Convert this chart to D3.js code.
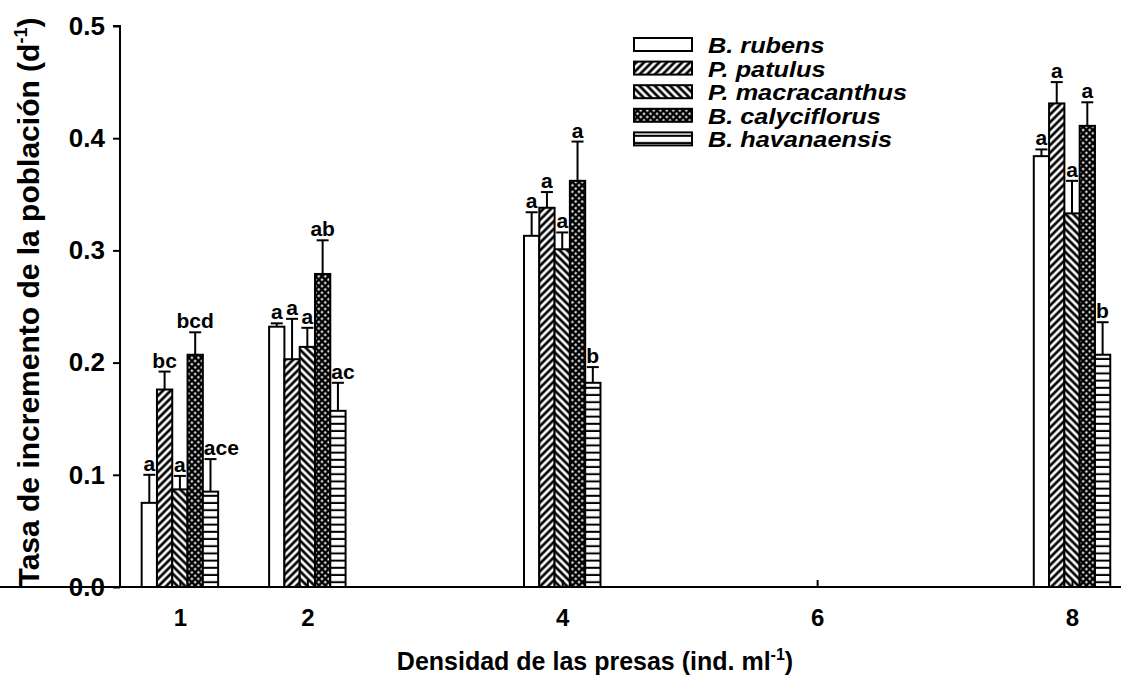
<!DOCTYPE html>
<html>
<head>
<meta charset="utf-8">
<script src="https://cdn.jsdelivr.net/npm/d3@7"></script>
<style>
  html, body { margin: 0; padding: 0; background: #fff; }
  svg { display: block; font-family: "Liberation Sans", Arial, sans-serif; }
</style>
</head>
<body>
<svg id="chart" width="1121" height="677"></svg>
<script>
// Prey densities (ind. ml^-1)
const densities = [1, 2, 4, 8];
const xTicks = [1, 2, 4, 6, 8];
const yTicks = [0, 0.1, 0.2, 0.3, 0.4, 0.5];

// Species shown in the legend
const species = ["B. rubens", "P. patulus", "P. macracanthus", "B. calyciflorus", "B. havanaensis"];

// Rate of population increase (d^-1), one array per species, by density
const rubensR        = [0.075, 0.232, 0.313, 0.384];
const patulusR       = [0.176, 0.203, 0.338, 0.431];
const macracanthusR  = [0.087, 0.214, 0.301, 0.333];
const calyciflorusR  = [0.207, 0.279, 0.362, 0.411];
const havanaensisR   = [0.085, 0.157, 0.182, 0.207];

// Standard errors
const rubensSE       = [0.025, 0.003, 0.021, 0.006];
const patulusSE      = [0.016, 0.036, 0.014, 0.019];
const macracanthusSE = [0.012, 0.017, 0.015, 0.029];
const calyciflorusSE = [0.020, 0.030, 0.035, 0.021];
const havanaensisSE  = [0.029, 0.025, 0.014, 0.029];

// Significance letters
const rubensLet       = ["a", "a", "a", "a"];
const patulusLet      = ["bc", "a", "a", "a"];
const macracanthusLet = ["a", "a", "a", "a"];
const calyciflorusLet = ["bcd", "ab", "a", "a"];
const havanaensisLet  = ["ace", "ac", "b", "b"];

const values  = [rubensR, patulusR, macracanthusR, calyciflorusR, havanaensisR];
const errors  = [rubensSE, patulusSE, macracanthusSE, calyciflorusSE, havanaensisSE];
const letters = [rubensLet, patulusLet, macracanthusLet, calyciflorusLet, havanaensisLet];
const fills   = ["white", "url(#pPatulus)", "url(#pMacra)", "url(#pCaly)", "url(#pHava)"];

const svg = d3.select("#chart");

// ---- hatch patterns ----
const defs = svg.append("defs");

function stripes(id, angle, size, lw) {
  const p = defs.append("pattern").attr("id", id)
    .attr("patternUnits", "userSpaceOnUse")
    .attr("width", size).attr("height", size)
    .attr("patternTransform", `rotate(${angle})`);
  p.append("rect").attr("width", size).attr("height", size).attr("fill", "white");
  p.append("line").attr("x1", size / 2).attr("x2", size / 2)
    .attr("y1", 0).attr("y2", size)
    .attr("stroke", "black").attr("stroke-width", lw);
}
stripes("pPatulus", 45, 5.4, 2.7);
stripes("pMacra", -45, 5.4, 2.7);

// cross-hatch: black ground with white dots
(function () {
  const s = 4.6;
  const p = defs.append("pattern").attr("id", "pCaly")
    .attr("patternUnits", "userSpaceOnUse")
    .attr("width", s).attr("height", s)
    .attr("patternTransform", "rotate(45)");
  p.append("rect").attr("width", s).attr("height", s).attr("fill", "black");
  p.append("rect").attr("x", 1.2).attr("y", 1.2).attr("width", 2.1).attr("height", 2.1).attr("fill", "white");
})();

// horizontal lines
(function () {
  const s = 7.2;
  const p = defs.append("pattern").attr("id", "pHava")
    .attr("patternUnits", "userSpaceOnUse")
    .attr("width", 10).attr("height", s);
  p.append("rect").attr("width", 10).attr("height", s).attr("fill", "white");
  p.append("rect").attr("x", 0).attr("y", s - 2).attr("width", 10).attr("height", 2).attr("fill", "black");
})();

// ---- scales ----
const x = d3.scaleLinear().domain([0.53, 8.4]).range([120, 1123]);
const y = d3.scaleLinear().domain([0, 0.5]).range([587, 26]);
const barW = 0.12; // in density units

// ---- bars, error bars, letters ----
const g = svg.append("g");
species.forEach((sp, i) => {
  const off = (i - 2.5) * barW;
  const last = i === species.length - 1;
  densities.forEach((d, j) => {
    const x0 = x(d + off), x1 = x(d + off + barW);
    const cx = (x0 + x1) / 2;
    const v = values[i][j], e = errors[i][j];
    // error bar (upper half only)
    g.append("line").attr("x1", cx).attr("x2", cx)
      .attr("y1", y(v)).attr("y2", y(v + e))
      .attr("stroke", "black").attr("stroke-width", 2);
    g.append("line").attr("x1", cx - 6).attr("x2", cx + 6)
      .attr("y1", y(v + e)).attr("y2", y(v + e))
      .attr("stroke", "black").attr("stroke-width", 2);
    // letters of the right-most bar start at its left edge so they clear the neighbour
    g.append("text").attr("x", last ? x0 + 1 : cx).attr("y", y(v + e) - 4)
      .attr("text-anchor", last ? "start" : "middle")
      .attr("font-size", 21).attr("font-weight", "bold")
      .text(letters[i][j]);
    g.append("rect")
      .attr("x", x0).attr("y", y(v))
      .attr("width", x1 - x0).attr("height", y(0) - y(v))
      .attr("fill", fills[i]).attr("stroke", "black").attr("stroke-width", 2);
  });
});

// ---- axes ----
const yAxis = svg.append("g").attr("transform", `translate(${x(0.53)},0)`)
  .call(d3.axisLeft(y).tickValues(yTicks).tickFormat(d3.format(".1f")).tickSize(7).tickPadding(8));
const xAxis = svg.append("g").attr("transform", `translate(0,${y(0)})`)
  .call(d3.axisBottom(x).tickValues(xTicks).tickFormat(d3.format("d")).tickSize(-7).tickPadding(22));

[yAxis, xAxis].forEach(a => {
  a.select(".domain").attr("stroke", "black").attr("stroke-width", 2);
  a.selectAll(".tick line").attr("stroke", "black").attr("stroke-width", 2);
  a.selectAll(".tick text").attr("fill", "black")
    .attr("font-weight", "bold")
    .attr("font-family", "Liberation Sans, Arial, sans-serif");
});
yAxis.selectAll(".tick text").attr("font-size", 26);
xAxis.selectAll(".tick text").attr("font-size", 24);
yAxis.select(".domain").attr("d", `M-7,${y(0.5)}H0V${y(0)}`);
xAxis.select(".domain").attr("d", `M0,0H${1121}`);

// ---- axis titles ----
const yt = svg.append("text")
  .attr("transform", `translate(39,302) rotate(-90)`)
  .attr("text-anchor", "middle")
  .attr("font-size", 30).attr("font-weight", "bold");
yt.append("tspan").text("Tasa de incremento de la población (d");
yt.append("tspan").attr("font-size", 18).attr("dy", -12).text("-1");
yt.append("tspan").attr("dy", 12).text(")");

const xt = svg.append("text")
  .attr("x", 595).attr("y", 670)
  .attr("text-anchor", "middle")
  .attr("font-size", 25).attr("font-weight", "bold");
xt.append("tspan").text("Densidad de las presas (ind. ml");
xt.append("tspan").attr("font-size", 16).attr("dy", -10).text("-1");
xt.append("tspan").attr("dy", 10).text(")");

// ---- legend ----
const lg = svg.append("g");
species.forEach((sp, i) => {
  const yy = 45 + i * 23.6;
  lg.append("rect").attr("x", 634).attr("y", yy - 7).attr("width", 58).attr("height", 13)
    .attr("fill", fills[i]).attr("stroke", "black").attr("stroke-width", 2);
  // wide, compact lettering for the species names
  lg.append("text")
    .attr("transform", `translate(708,${yy + 8}) scale(1.15,1)`)
    .attr("font-size", 22).attr("font-weight", "bold").attr("font-style", "italic")
    .text(sp);
});
</script>
</body>
</html>
